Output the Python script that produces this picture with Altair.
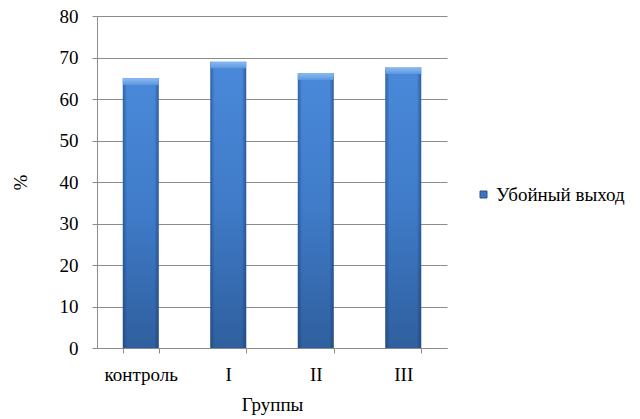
import altair as alt
import pandas as pd

# Slaughter yield by group, %
groups = ["контроль", "I", "II", "III"]
yield_pct = [65.0, 69.0, 66.2, 67.6]
series_name = "Убойный выход"
y_ticks = [0, 10, 20, 30, 40, 50, 60, 70, 80]

df = pd.DataFrame({
    "group": groups,
    "value": yield_pct,
    "series": [series_name] * len(groups),
})

FONT = "Liberation Serif"
FS = 19
GRID = "#8c8c8c"
TEXT = "#000000"

text_style = dict(
    labelFont=FONT,
    labelFontSize=FS,
    labelColor=TEXT,
    titleFont=FONT,
    titleFontSize=FS,
    titleFontWeight="normal",
    titleColor=TEXT,
    tickColor=GRID,
    domainColor=GRID,
)

x_enc = alt.X(
    "group:N",
    sort=groups,
    title="Группы",
    scale=alt.Scale(paddingInner=0.59, paddingOuter=0.295),
    axis=alt.Axis(
        labelAngle=0,
        tickBand="extent",
        tickSize=5,
        labelPadding=12,
        titlePadding=11,
        **text_style,
    ),
)

y_enc = alt.Y(
    "value:Q",
    title="%",
    scale=alt.Scale(domain=[0, 80], nice=False),
    axis=alt.Axis(
        values=y_ticks,
        grid=True,
        gridColor=GRID,
        gridWidth=1,
        tickSize=5,
        labelPadding=14,
        titlePadding=29,
        **text_style,
    ),
)

body_fill = alt.Gradient(
    gradient="linear",
    x1=0, y1=0, x2=0, y2=1,
    stops=[
        alt.GradientStop(color="#4a89da", offset=0),
        alt.GradientStop(color="#3f7bc8", offset=0.5),
        alt.GradientStop(color="#2f5f9e", offset=1),
    ],
)

edge_fill = alt.Gradient(
    gradient="linear",
    x1=0, y1=0, x2=1, y2=0,
    stops=[
        alt.GradientStop(color="rgba(20,50,100,0.45)", offset=0),
        alt.GradientStop(color="rgba(20,50,100,0.0)", offset=0.12),
        alt.GradientStop(color="rgba(20,50,100,0.0)", offset=0.88),
        alt.GradientStop(color="rgba(20,50,100,0.5)", offset=1),
    ],
)

cap_fill = alt.Gradient(
    gradient="linear",
    x1=0, y1=0, x2=0, y2=1,
    stops=[
        alt.GradientStop(color="#8cbcf0", offset=0),
        alt.GradientStop(color="#5b96e0", offset=1),
    ],
)

base = alt.Chart(df).encode(x=x_enc, y=y_enc)

# main bars, which also carry the legend
bars = base.mark_bar(fill=body_fill, opacity=1).encode(
    color=alt.Color(
        "series:N",
        scale=alt.Scale(domain=[series_name], range=["#3d74bd"]),
        legend=alt.Legend(
            title=None,
            orient="none",
            legendX=377,
            legendY=169,
            symbolType="square",
            symbolSize=49,
            symbolStrokeColor="#2a5590",
            symbolStrokeWidth=1,
            labelOffset=3,
            labelLimit=300,
            labelFont=FONT,
            labelFontSize=FS,
            labelColor=TEXT,
        ),
    ),
)

# darker side shading over each bar
edges = base.mark_bar(fill=edge_fill)

# lighter bevel along the top of each bar
caps = base.transform_calculate(cap="datum.value - 1.6").mark_bar(fill=cap_fill).encode(
    y2="cap:Q",
)

chart = (
    alt.layer(bars, edges, caps)
    .properties(
        width=350,
        height=332,
        autosize=alt.AutoSizeParams(type="none"),
        padding={"left": 97, "top": 16, "right": 193, "bottom": 71},
        background="white",
    )
    .configure(font=FONT)
    .configure_view(stroke=None)
    .configure_axis(labelFont=FONT, titleFont=FONT)
    .configure_legend(labelFont=FONT)
)

chart.save("out.html", embed_options={"renderer": "svg", "actions": False})
